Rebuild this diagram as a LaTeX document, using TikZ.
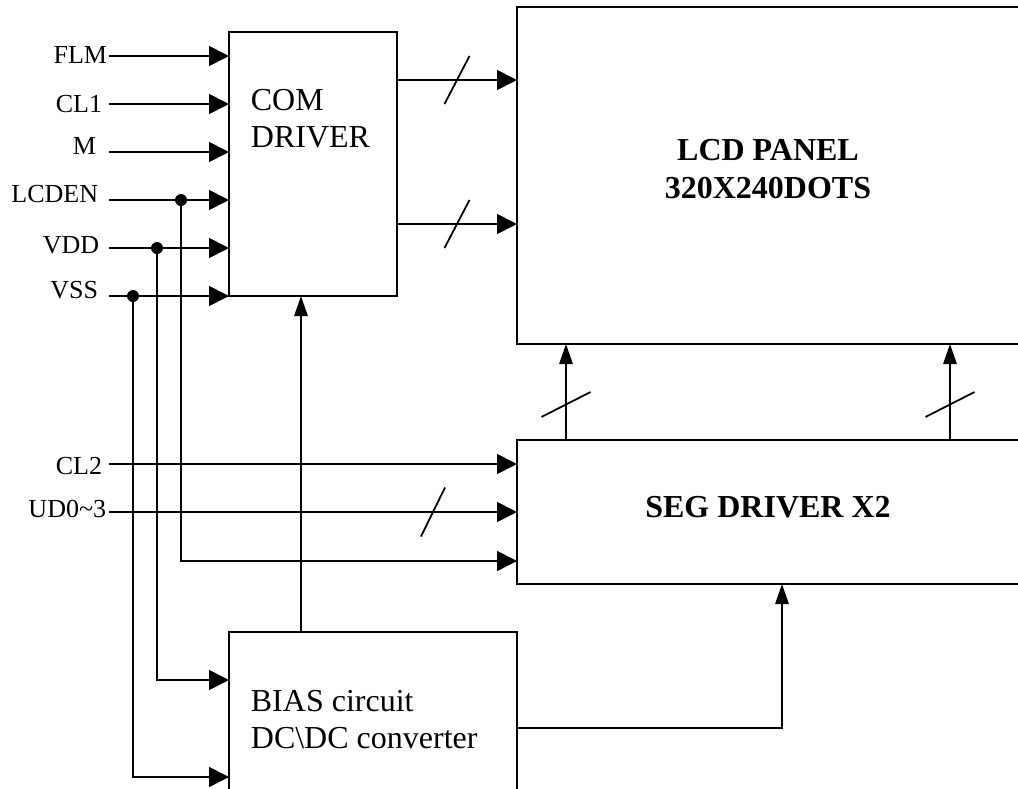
\documentclass[tikz,border=0pt]{standalone}
\usepackage{fontspec}
\setmainfont{Liberation Serif}
\usetikzlibrary{arrows.meta,calc}
\begin{document}
\begin{tikzpicture}[x=0.75pt,y=-0.75pt, line width=1.35pt,
  blk/.style={draw, rectangle, inner sep=0pt, outer sep=0pt, anchor=north west},
  harr/.style={-{Triangle[length=15pt,width=15pt]}},
  varr/.style={-{Triangle[length=15pt,width=10pt]}},
  lbl/.style={inner sep=0pt, anchor=base east, font=\fontsize{19.5}{23}\selectfont},
  btxt/.style={inner sep=0pt, font=\fontsize{24}{27.75}\selectfont, align=left, anchor=north west},
  boldtxt/.style={inner sep=0pt, font=\fontsize{24}{28.5}\selectfont\bfseries, align=center},
  jdot/.style={circle, fill, inner sep=0pt, minimum size=9pt},
  busmark/.style={line width=1.35pt}]
\useasboundingbox (0,0) rectangle (1018,789);
\clip (0,0) rectangle (1018,789);

% blocks
\node[blk, minimum width=126pt, minimum height=198pt] (com) at (229,32) {};
\node[blk, minimum width=400pt, minimum height=252.75pt] (lcd) at (517,7) {};
\node[blk, minimum width=400pt, minimum height=108pt] (seg) at (517,440) {};
\node[blk, minimum width=216pt, minimum height=140pt] (bias) at (229,632) {};

% block texts
\node[btxt] (comt) at (250,88) {COM\\DRIVER};
\node[btxt] (biast) at (250,689) {BIAS circuit\\DC\textbackslash DC converter};
\node[boldtxt, anchor=north] (lcdt) at (768,138) {LCD PANEL\\320X240DOTS};
\node[boldtxt] (segt) at (768,507.5) {SEG DRIVER X2};

% labels
\node[lbl] (lflm) at (108,63) {FLM};
\node[lbl] (lcl1) at (103,112) {CL1};
\node[lbl] (lm) at (97,154) {M};
\node[lbl] (llcden) at (99,202) {LCDEN};
\node[lbl] (lvdd) at (100,253) {VDD};
\node[lbl] (lvss) at (99,298) {VSS};
\node[lbl] (lcl2) at (103,474) {CL2};
\node[lbl] (lud) at (107,517) {UD0\char126 3};

% input start points
\coordinate (iflm) at (109,56);
\coordinate (icl1) at (109,104);
\coordinate (im) at (109,152);
\coordinate (ilcden) at (109,200);
\coordinate (ivdd) at (109,248);
\coordinate (ivss) at (109,296);
\coordinate (icl2) at (109,464);
\coordinate (iud) at (109,512);

\draw[harr] (iflm) -- (iflm -| com.west);
\draw[harr] (icl1) -- (icl1 -| com.west);
\draw[harr] (im) -- (im -| com.west);
\draw[harr] (ilcden) -- (ilcden -| com.west);
\draw[harr] (ivdd) -- (ivdd -| com.west);
\draw[harr] (ivss) -- (ivss -| com.west);
\draw[harr] (icl2) -- (icl2 -| seg.west);
\draw[harr] (iud) -- (iud -| seg.west);

% junctions
\node[jdot] (jlcden) at (181,200) {};
\node[jdot] (jvdd) at (157,248) {};
\node[jdot] (jvss) at (133,296) {};

\draw[harr] (jlcden.center) |- (seg.west |- 0,561);
\draw[harr] (jvdd.center) |- (bias.west |- 0,680);
\draw[harr] (jvss.center) |- (bias.west |- 0,777);

% internal connections
\draw[varr] (bias.north -| 301,0) -- (com.south -| 301,0);
\draw[varr] (bias.east |- 0,728) -| (seg.south -| 782,0);
\draw[harr] (com.east |- 0,80) -- (lcd.west |- 0,80);
\draw[harr] (com.east |- 0,224) -- (lcd.west |- 0,224);
\draw[varr] (seg.north -| 566,0) -- (lcd.south -| 566,0);
\draw[varr] (seg.north -| 950,0) -- (lcd.south -| 950,0);

% bus marks
\draw[busmark] (457,80) ++(-12.5,24) -- ++(25,-48);
\draw[busmark] (457,224) ++(-12.5,24) -- ++(25,-48);
\draw[busmark] (433,512) ++(-12,24.5) -- ++(24,-49);
\draw[busmark] (566,404.5) ++(-24.5,12.5) -- ++(49,-25);
\draw[busmark] (950,404.5) ++(-24.5,12.5) -- ++(49,-25);
\end{tikzpicture}
\end{document}
